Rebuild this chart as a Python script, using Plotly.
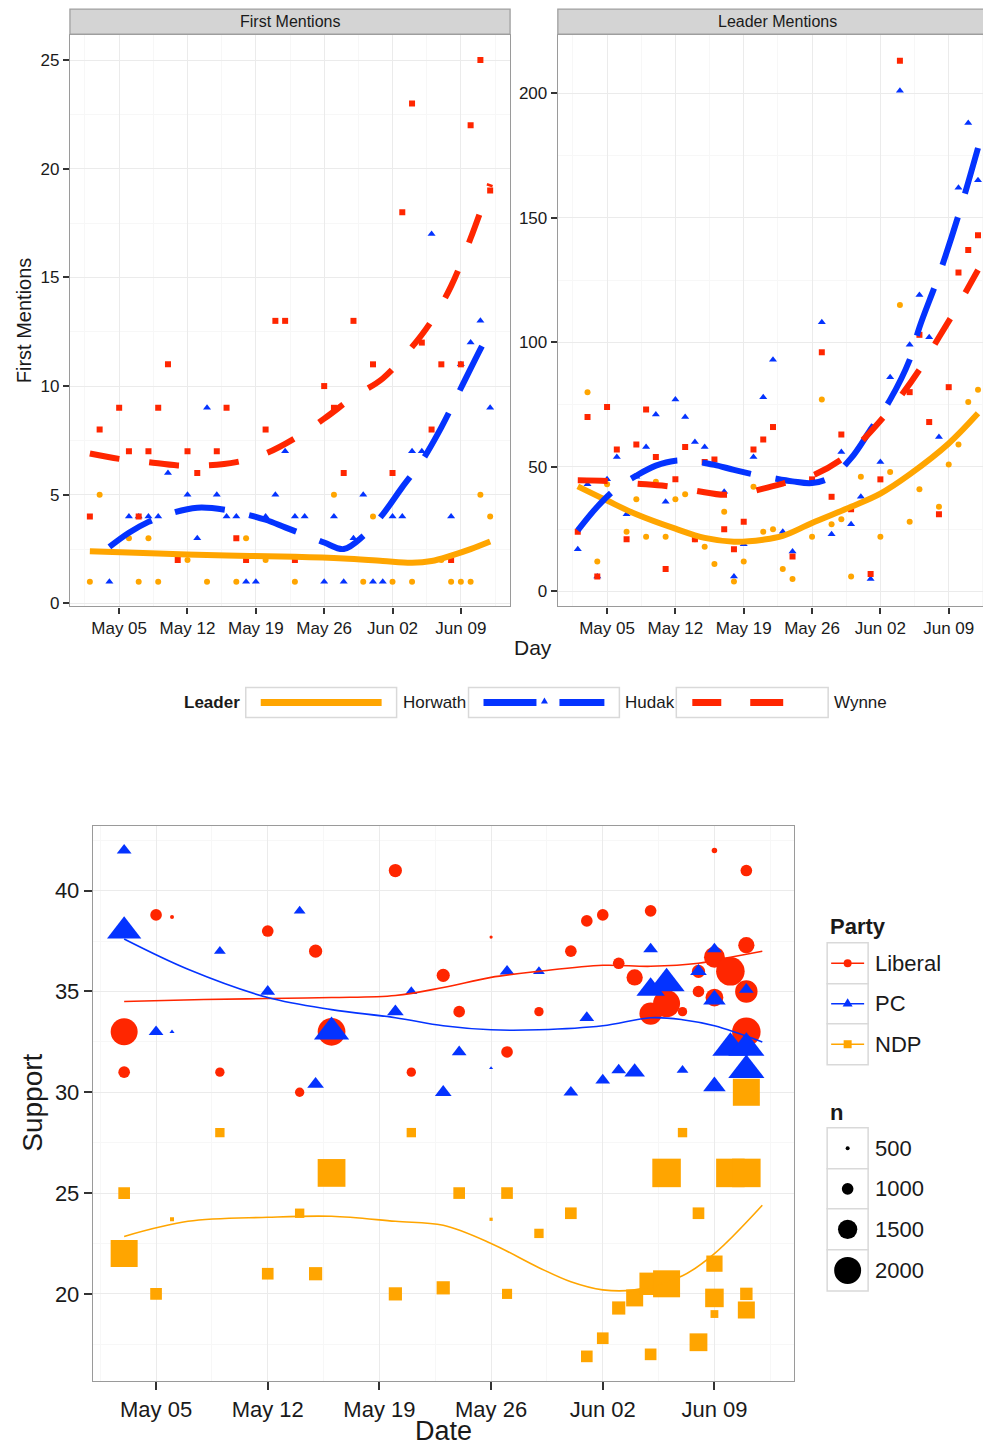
import plotly.graph_objects as go

# The page body has an 8px margin; the capture also shrinks the page vertically by ~0.5%,
# so reference pixel positions are mapped into figure coordinates with that correction.
OFF = 8
KY = 1440 / 1448
W, H = 991 - OFF, 1440
def px(x): return (x - OFF) / W
def py(y): return 1 - (y / KY - OFF) / H
def dt(s): return "2014-" + s

RED, BLUE, ORANGE = "#FF2600", "#0433FF", "#FFA500"
FONT = "Liberation Sans, Arial, sans-serif"
GRID, MINOR, BORDER = "#EBEBEB", "#F7F7F7", "#9A9A9A"

# ---------------- First Mentions (top-left panel) ----------------
fm_wynne_days = ["05-02","05-03","05-05","05-06","05-07","05-08","05-09","05-10","05-11","05-12",
                 "05-13","05-15","05-16","05-17","05-18","05-20","05-21","05-22","05-23","05-26",
                 "05-27","05-28","05-29","05-31","06-02","06-03","06-04","06-05","06-06","06-07",
                 "06-08","06-09","06-10","06-11","06-12"]
fm_wynne_vals = [4,8,9,7,4,7,9,11,2,7, 6,7,9,3,2,8,13,13,2,10, 9,6,13,11,6,18,23,12,8,11, 2,11,22,25,19]

fm_hudak_days = ["05-04","05-06","05-07","05-08","05-09","05-10","05-12","05-13","05-14","05-15",
                 "05-16","05-17","05-18","05-19","05-20","05-21","05-22","05-23","05-24","05-26",
                 "05-27","05-28","05-29","05-30","05-31","06-01","06-02","06-03","06-04","06-05",
                 "06-06","06-08","06-09","06-10","06-11","06-12"]
fm_hudak_vals = [1,4,4,4,4,6,5,3,9,5, 4,4,1,1,4,5,7,4,4,1, 4,1,3,5,1,1,4,4,7,7, 17,4,11,12,13,9]

fm_horwath_days = ["05-02","05-03","05-06","05-07","05-08","05-09","05-12","05-14","05-17","05-18",
                   "05-20","05-23","05-27","05-30","05-31","06-02","06-04","06-07","06-08","06-09",
                   "06-10","06-11","06-12"]
fm_horwath_vals = [1,5,3,1,3,1,2,1,1,3, 2,1,5,1,4,1,1,2,1,1, 1,5,4]

# smoothed curves
fm_wynne_fit_days = ["05-02","05-05","05-08","05-11","05-14","05-17","05-20","05-23","05-26","05-29",
                     "06-01","06-04","06-06","06-08","06-10","06-12"]
fm_wynne_fit_vals = [6.9,6.65,6.5,6.35,6.35,6.5,6.9,7.6,8.5,9.5, 10.35,11.8,13.0,14.6,16.8,19.3]
fm_hudak_fit_days = ["05-04","05-06","05-08","05-10","05-13","05-16","05-18","05-20","05-22","05-24",
                     "05-26","05-28","05-30","06-01","06-03","06-05","06-07","06-09","06-11","06-12"]
fm_hudak_fit_vals = [2.6,3.25,3.75,4.1,4.4,4.3,4.1,3.85,3.5,3.15, 2.8,2.5,3.1,4.1,5.35,6.55,8.1,9.9,11.7,12.55]
fm_horwath_fit_days = ["05-02","05-09","05-16","05-23","05-28","06-01","06-04","06-06","06-08","06-10","06-12"]
fm_horwath_fit_vals = [2.4,2.3,2.2,2.15,2.07,1.95,1.87,1.95,2.2,2.5,2.85]

# ---------------- Leader Mentions (top-right panel) ----------------
lm_wynne_days = ["05-02","05-03","05-04","05-05","05-06","05-07","05-08","05-09","05-10","05-11",
                 "05-12","05-13","05-14","05-15","05-16","05-17","05-18","05-19","05-20","05-21",
                 "05-22","05-24","05-26","05-27","05-28","05-29","05-30","06-01","06-02","06-04",
                 "06-05","06-06","06-07","06-08","06-09","06-10","06-11","06-12"]
lm_wynne_vals = [24,70,6,74,57,21,59,73,54,9, 45,58,21,52,53,25,17,28,57,61,
                 66,14,45,96,38,63,33,7,45,213, 80,103,68,31,82,128,137,143]

lm_hudak_days = ["05-02","05-03","05-04","05-05","05-06","05-07","05-08","05-09","05-10","05-11",
                 "05-12","05-13","05-14","05-15","05-17","05-18","05-19","05-20","05-21","05-22",
                 "05-23","05-24","05-27","05-28","05-29","05-30","05-31","06-01","06-02","06-03",
                 "06-04","06-05","06-06","06-07","06-08","06-10","06-11","06-12"]
lm_hudak_vals = [17,43,6,45,54,31,46,58,71,36, 77,70,60,58,40,6,19,54,78,93,
                 24,16,108,23,56,27,38,5,52,86, 201,99,119,102,62,162,188,165]

lm_horwath_days = ["05-03","05-04","05-05","05-07","05-08","05-09","05-10","05-11","05-12","05-13",
                   "05-14","05-15","05-16","05-17","05-18","05-19","05-20","05-21","05-22","05-23",
                   "05-24","05-26","05-27","05-28","05-29","05-30","05-31","06-02","06-03","06-04",
                   "06-05","06-06","06-08","06-09","06-10","06-11","06-12"]
lm_horwath_vals = [80,12,43,24,37,22,44,22,37,39, 21,18,11,32,4,12,42,24,25,9,
                   5,22,77,27,29,6,46,22,48,115, 28,41,34,51,59,76,81]

lm_wynne_fit_days = ["05-02","05-05","05-08","05-11","05-14","05-17","05-19","05-21","05-23","05-26",
                     "05-29","05-31","06-02","06-04","06-06","06-08","06-10","06-11","06-12"]
lm_wynne_fit_vals = [44.6,44.3,43.3,42.3,40.5,38.8,39.5,41.3,43.3,46.5, 53,60,68.5,78,89,102,115,122,129]
lm_hudak_fit_days = ["05-02","05-04","05-06","05-08","05-10","05-12","05-14","05-16","05-18","05-20",
                     "05-22","05-24","05-26","05-28","05-30","06-01","06-03","06-05","06-06","06-08",
                     "06-10","06-12"]
lm_hudak_fit_vals = [24.5,34,41.5,46.5,50.5,52.5,52.2,50.8,48.8,47, 45.5,44.2,43.5,46,53.5,65,77,93,106,127, 151,178]
lm_horwath_fit_days = ["05-02","05-05","05-08","05-12","05-15","05-18","05-21","05-23","05-26","05-30",
                       "06-02","06-05","06-09","06-12"]
lm_horwath_fit_vals = [42.2,36.5,31,25.2,21.5,20,20.8,22.3,27.5,34, 39.3,47,59.4,71.5]

# ---------------- Polls (bottom panel) ----------------
lib_days = ["05-03","05-03","05-05","05-06","05-09","05-12","05-14","05-15","05-16","05-20",
            "05-21","05-23","05-24","05-26","05-27","05-29","05-31","06-01","06-02","06-03",
            "06-04","06-05","06-05","06-06","06-07","06-08","06-08","06-09","06-09","06-09",
            "06-10","06-11","06-11","06-11","06-11"]
lib_vals = [33,31,38.8,38.7,31,38,30,37,33,41, 31,35.8,34,37.7,32,34,37,38.5,38.8,36.4,
            35.7,39,33.9,34.4,34,35,36,42,36.7,34.7, 36,41,37.3,35,33]
lib_n = [2000,1000,1000,500,850,1000,850,1100,2050,1100, 850,1100,1000,450,1000,850,1000,1000,1000,1000,
         1300,1000,1700,2000,850,1000,1100,600,1600,1400, 2100,1000,1300,1700,2100]

pc_days = ["05-03","05-03","05-05","05-06","05-09","05-12","05-14","05-15","05-16","05-20",
           "05-21","05-23","05-24","05-26","05-27","05-29","05-31","06-01","06-02","06-03",
           "06-04","06-05","06-05","06-06","06-07","06-08","06-09","06-09","06-09","06-10",
           "06-11","06-11","06-11"]
pc_vals = [42,38,33,33,37,35,39,30.4,33,34, 35,30,32,31.2,36,36,30,33.7,30.6,31.1,
           31,37.1,35.1,35.4,31.1,36,37.1,34.6,30.3,32.2, 35.1,32.2,31.1]
pc_n = [1000,2000,1000,500,850,1000,850,1100,2050,1100, 850,1100,1000,450,1000,850,1000,1000,1000,1000,
        1300,1000,1700,2100,850,1100,1000,1400,1400,2100, 1000,2100,2100]

ndp_days = ["05-03","05-03","05-05","05-06","05-09","05-12","05-14","05-15","05-16","05-20",
            "05-21","05-23","05-24","05-26","05-27","05-27","05-29","05-31","06-01","06-02",
            "06-03","06-04","06-05","06-05","06-06","06-06","06-07","06-08","06-08","06-09",
            "06-09","06-09","06-10","06-11","06-11","06-11","06-11"]
ndp_vals = [25,22,20,23.7,28,21,24,21,26,20, 28,20.3,25,23.7,25,20,23,24,16.9,17.8,
            19.3,19.8,17,20.5,20.5,26,28,24,17.6,21.5, 19.8,19,26,26,30,20,19.2]
ndp_n = [1000,2000,1000,500,850,1000,850,1100,2050,1100, 850,1100,1000,450,1000,900,850,1000,1000,1000,
         1100,1350,1000,1700,2000,2100,850,1000,1400,1300, 1450,750,2100,2100,2000,1050,1350]

lib_fit_days = ["05-03","05-08","05-12","05-16","05-20","05-23","05-26","05-29","06-02","06-05","06-08","06-10","06-12"]
lib_fit_vals = [34.5,34.6,34.65,34.7,34.8,35.2,35.7,36.0,36.3,36.25,36.4,36.7,37.0]
pc_fit_days = ["05-03","05-07","05-12","05-16","05-20","05-23","05-26","05-29","06-02","06-05","06-07","06-09","06-12"]
pc_fit_vals = [37.6,36.1,34.7,34.1,33.7,33.3,33.1,33.1,33.3,33.7,33.6,33.3,32.5]
ndp_fit_days = ["05-03","05-07","05-12","05-16","05-20","05-23","05-26","05-29","05-31","06-02","06-04","06-07","06-09","06-12"]
ndp_fit_vals = [22.85,23.6,23.8,23.85,23.6,23.4,22.5,21.3,20.6,20.2,20.2,20.9,22.0,24.4]

n_legend = [500, 1000, 1500, 2000]

def nsize(n):
    return 0.01533 * n - 3.67

fig = go.Figure()

def pts(days, vals, sym, color, size, xa, ya):
    fig.add_trace(go.Scatter(x=[dt(d) for d in days], y=vals, mode="markers",
                             marker=dict(symbol=sym, color=color, size=size, opacity=1, line=dict(width=0)),
                             xaxis=xa, yaxis=ya, showlegend=False, hoverinfo="skip"))

def fit(days, vals, color, dash, width, xa, ya):
    fig.add_trace(go.Scatter(x=[dt(d) for d in days], y=vals, mode="lines",
                             line=dict(color=color, width=width, dash=dash, shape="spline", smoothing=1.0),
                             xaxis=xa, yaxis=ya, showlegend=False, hoverinfo="skip"))

# top-left
pts(fm_horwath_days, fm_horwath_vals, "circle", ORANGE, 6, "x", "y")
pts(fm_hudak_days, fm_hudak_vals, "triangle-up", BLUE, 7, "x", "y")
pts(fm_wynne_days, fm_wynne_vals, "square", RED, 6, "x", "y")
fit(fm_horwath_fit_days, fm_horwath_fit_vals, ORANGE, "solid", 6, "x", "y")
fit(fm_hudak_fit_days, fm_hudak_fit_vals, BLUE, "50px,25px", 6, "x", "y")
fit(fm_wynne_fit_days, fm_wynne_fit_vals, RED, "30px,30px", 6, "x", "y")
# top-right
pts(lm_horwath_days, lm_horwath_vals, "circle", ORANGE, 6, "x2", "y2")
pts(lm_hudak_days, lm_hudak_vals, "triangle-up", BLUE, 7, "x2", "y2")
pts(lm_wynne_days, lm_wynne_vals, "square", RED, 6, "x2", "y2")
fit(lm_horwath_fit_days, lm_horwath_fit_vals, ORANGE, "solid", 6, "x2", "y2")
fit(lm_hudak_fit_days, lm_hudak_fit_vals, BLUE, "50px,25px", 6, "x2", "y2")
fit(lm_wynne_fit_days, lm_wynne_fit_vals, RED, "30px,30px", 6, "x2", "y2")
# bottom
pts(lib_days, lib_vals, "circle", RED, [nsize(n) for n in lib_n], "x3", "y3")
pts(pc_days, pc_vals, "triangle-up", BLUE, [nsize(n) * 1.1 for n in pc_n], "x3", "y3")
pts(ndp_days, ndp_vals, "square", ORANGE, [nsize(n) for n in ndp_n], "x3", "y3")
fit(lib_fit_days, lib_fit_vals, RED, "solid", 1.6, "x3", "y3")
fit(pc_fit_days, pc_fit_vals, BLUE, "solid", 1.6, "x3", "y3")
fit(ndp_fit_days, ndp_fit_vals, ORANGE, "solid", 1.6, "x3", "y3")

DAY = 86400000
def xaxis(domain, rng, fs, anchor, ticklen):
    return dict(domain=domain, range=rng, type="date", anchor=anchor,
                tick0="2014-05-05", dtick=7 * DAY, tickformat="%b %d",
                ticks="outside", ticklen=ticklen, tickwidth=1.5, tickcolor="#333",
                tickfont=dict(size=fs, color="#1a1a1a", family=FONT),
                showgrid=True, gridcolor=GRID, gridwidth=1.3,
                minor=dict(tick0="2014-05-05", dtick=3.5 * DAY, showgrid=True, gridcolor=MINOR, gridwidth=1, ticks=""),
                showline=True, mirror=True, linecolor=BORDER, linewidth=1.3, zeroline=False, fixedrange=True)

def yaxis(domain, rng, dtick, fs, anchor, ticklen):
    return dict(domain=domain, range=rng, anchor=anchor, tick0=0, dtick=dtick,
                ticks="outside", ticklen=ticklen, tickwidth=1.5, tickcolor="#333",
                tickfont=dict(size=fs, color="#1a1a1a", family=FONT),
                showgrid=True, gridcolor=GRID, gridwidth=1.3,
                minor=dict(tick0=0, dtick=dtick / 2, showgrid=True, gridcolor=MINOR, gridwidth=1, ticks=""),
                showline=True, mirror=True, linecolor=BORDER, linewidth=1.3, zeroline=False, fixedrange=True)

top_dom = [py(606), py(35)]
fig.update_layout(
    width=W, height=H, autosize=False,
    margin=dict(l=0, r=0, t=0, b=0, pad=0),
    paper_bgcolor="white", plot_bgcolor="white",
    font=dict(family=FONT, color="#1a1a1a"),
    xaxis=xaxis([px(70), px(510.6)], ["2014-04-29 23:00", "2014-06-14 01:00"], 17, "y", 6),
    yaxis=yaxis(top_dom, [-0.14, 26.15], 5, 17, "x", 6),
    xaxis2=xaxis([px(558.4), 1.0], ["2014-04-29 23:00", "2014-06-13 05:30"], 17, "y2", 6),
    yaxis2=yaxis(top_dom, [-6.0, 223.3], 50, 17, "x2", 6),
    xaxis3=xaxis([px(93), px(795)], ["2014-05-01 01:00", "2014-06-14 00:00"], 22, "y3", 8),
    yaxis3=yaxis([py(1380), py(825)], [15.68, 43.23], 5, 22, "x3", 8),
)

shapes = []
annos = []
def rect(x0, y0, x1, y1, fill, line, lw=1.3):
    shapes.append(dict(type="rect", xref="paper", yref="paper", x0=px(x0), x1=px(x1), y0=py(y1), y1=py(y0),
                       fillcolor=fill, line=dict(color=line, width=lw), layer="above"))
def seg(x0, y0, x1, y1, color, lw):
    shapes.append(dict(type="line", xref="paper", yref="paper", x0=px(x0), x1=px(x1), y0=py(y0), y1=py(y1),
                       line=dict(color=color, width=lw), layer="above"))
def tri(cx, cy, w, h, color):
    p = "M {},{} L {},{} L {},{} Z".format(px(cx - w / 2), py(cy + h / 3), px(cx + w / 2), py(cy + h / 3),
                                          px(cx), py(cy - 2 * h / 3))
    shapes.append(dict(type="path", xref="paper", yref="paper", path=p, fillcolor=color,
                       line=dict(width=0), layer="above"))
def circ(cx, cy, d, color):
    shapes.append(dict(type="circle", xref="paper", yref="paper", x0=px(cx - d / 2), x1=px(cx + d / 2),
                       y0=py(cy + d / 2), y1=py(cy - d / 2), fillcolor=color, line=dict(width=0), layer="above"))
def text(x, y, s, size, xanchor="left", bold=False, angle=0):
    annos.append(dict(xref="paper", yref="paper", x=px(x), y=py(y), text=("<b>%s</b>" % s) if bold else s,
                      showarrow=False, xanchor=xanchor, yanchor="middle", textangle=angle,
                      font=dict(size=size, family=FONT, color="#1a1a1a")))

# strips
rect(70, 9, 510.6, 34, "#D4D4D4", "#A0A0A0")
rect(558.4, 9, 992, 34, "#D4D4D4", "#A0A0A0")
text(290, 21.5, "First Mentions", 16, "center")
text(778, 21.5, "Leader Mentions", 16, "center")

# axis titles
text(24, 320, "First Mentions", 20, "center", angle=-90)
text(534, 647, "Day", 21, "center")
text(33, 1102, "Support", 28, "center", angle=-90)
text(444, 1430, "Date", 27, "center")

# Leader legend
text(182, 702, "Leader", 17, bold=True)
LB = "#D9D9D9"
rect(246, 687, 397, 717, "white", LB, 1.5)
seg(261, 702, 382, 702, ORANGE, 7)
text(401, 702, "Horwath", 17)
rect(469, 687, 620, 717, "white", LB, 1.5)
seg(484, 702, 537, 702, BLUE, 7)
tri(545, 701, 7, 6, BLUE)
seg(560, 702, 605, 702, BLUE, 7)
text(624, 702, "Hudak", 17)
rect(677, 687, 829, 717, "white", LB, 1.5)
seg(693, 702, 722, 702, RED, 7)
seg(751, 702, 784, 702, RED, 7)
text(833, 702, "Wynne", 17)

# Party legend
text(829, 926, "Party", 22, bold=True)
party_labels = ["Liberal", "PC", "NDP"]
party_cols = [RED, BLUE, ORANGE]
rows = [(942, 983), (983, 1023), (1023, 1064)]
for (y0, y1), lab, col in zip(rows, party_labels, party_cols):
    rect(828, y0, 869, y1, "white", LB, 1.5)
    cy = (y0 + y1) / 2
    seg(832, cy, 865, cy, col, 1.6)
    if lab == "Liberal":
        circ(848.5, cy, 8, col)
    elif lab == "PC":
        tri(848.5, cy, 10, 8, col)
    else:
        rect(844.5, cy - 4, 852.5, cy + 4, col, col, 0)
    text(874, cy, lab, 22)

# n legend
text(829, 1112, "n", 22, bold=True)
nrows = [(1127, 1168), (1168, 1208), (1208, 1249), (1249, 1290)]
for (y0, y1), n in zip(nrows, n_legend):
    rect(828, y0, 869, y1, "white", LB, 1.5)
    cy = (y0 + y1) / 2
    circ(848.5, cy, nsize(n), "black")
    text(874, cy, str(n), 22)

fig.update_layout(shapes=shapes, annotations=annos)
fig.write_html("out.html")
